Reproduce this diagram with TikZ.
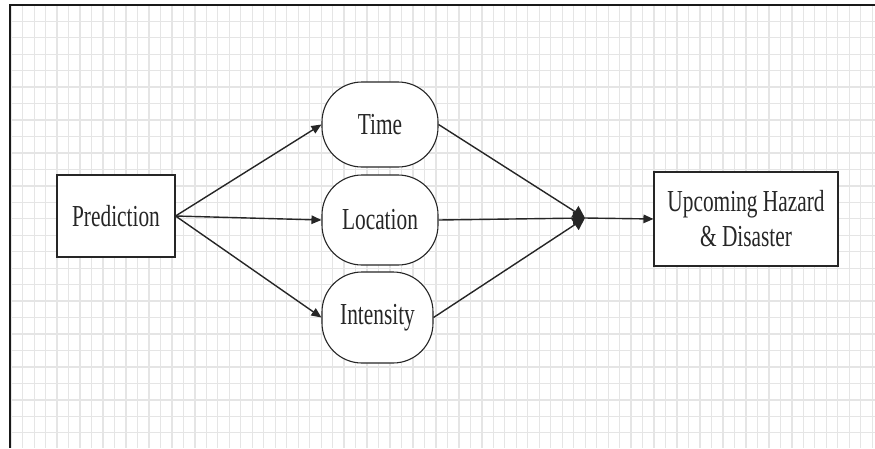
\documentclass[tikz,border=0pt]{standalone}
\usepackage{fontspec}
\setmainfont{Liberation Serif}[FakeStretch=0.7]
\usetikzlibrary{arrows.meta}
\begin{document}
\begin{tikzpicture}[x=1pt,y=-1pt,
  gridline/.style={draw=black!10,line width=1.3pt},
  frameline/.style={draw=black!90,line width=2.2pt},
  sqbox/.style={draw=black!85,line width=1.1pt,fill=white,inner sep=0pt,
    font=\fontsize{30.5}{35}\selectfont,align=center,text=black!85},
  pill/.style={sqbox,rounded corners=40pt},
  link/.style={draw=black!85,line width=1.4pt},
  arr/.style={link,-{Triangle[length=10pt,width=8.5pt]}},
  jarr/.style={link,-{Triangle[length=12pt,width=13pt]}}]
\useasboundingbox (0,0) rectangle (875,448);
\fill[white] (0,0) rectangle (875,448);
% grid
\foreach \k in {0,...,75}{
  \pgfmathsetmacro{\gx}{11.2+\k*11.48}
  \draw[gridline] (\gx,5) -- (\gx,448);
}
\foreach \k in {0,...,27}{
  \pgfmathsetmacro{\gy}{4.84+\k*16.46}
  \draw[gridline] (10,\gy) -- (875,\gy);
}
% frame
\draw[frameline] (875,5) -- (10,5) -- (10,448);
% nodes
\node[sqbox,minimum width=118pt,minimum height=82pt] (pred) at (116,216) {Prediction};
\node[pill,minimum width=116pt,minimum height=85pt] (time) at (380,124.5) {Time};
\node[pill,minimum width=116pt,minimum height=90pt] (loc) at (380,220) {Location};
\node[pill,minimum width=111pt,minimum height=91pt] (int) at (377.5,317.5) {Intensity};
\node[sqbox,minimum width=184pt,minimum height=94pt] (haz) at (746,219) {Upcoming Hazard\\\& Disaster};
\coordinate (j) at (585,218);
% connectors
\draw[arr] (pred.east) -- (time.west);
\draw[arr] (pred.east) -- (loc.west);
\draw[arr] (pred.east) -- (int.west);
\draw[jarr] (time.east) -- (j);
\draw[jarr] (loc.east) -- (j);
\draw[jarr] (int.east) -- (j);
\draw[arr] (j) -- (haz.west);
\end{tikzpicture}
\end{document}
